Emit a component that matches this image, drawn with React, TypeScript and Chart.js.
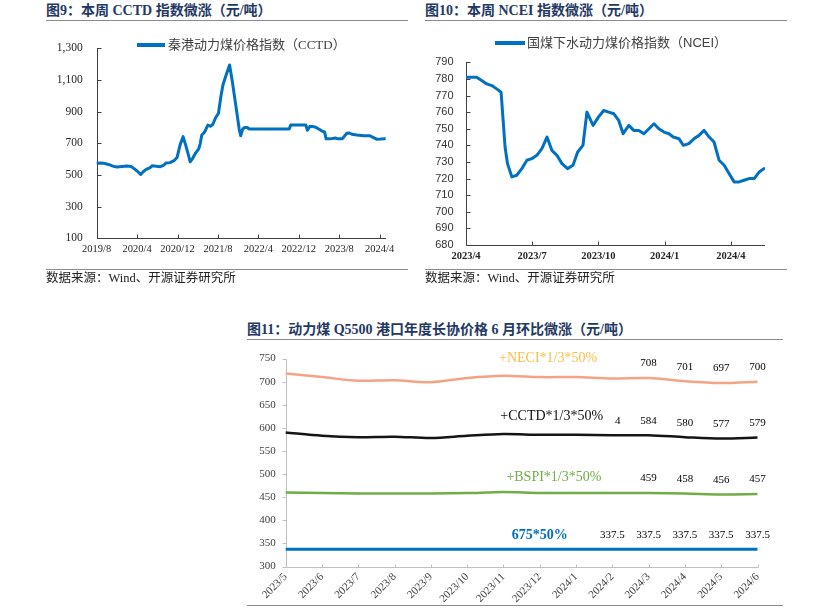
import React, { useEffect, useRef } from 'react';
import { Chart, registerables } from 'chart.js';

Chart.register(...registerables);

const SERIF = '"Liberation Serif", "Times New Roman", serif';
const SANS = '"Liberation Sans", Arial, sans-serif';
const CJK_SERIF = '"Liberation Serif", "Noto Sans CJK SC", serif';
const CJK_SANS = '"Liberation Sans", "Noto Sans CJK SC", sans-serif';

// ---------- Figure 9: CCTD (x = months since 2019/8) ----------
const cctdMonths = [0, 1, 1.6, 2.5, 3.2, 4, 5, 6, 6.8, 7.4, 8, 8.7, 9.2, 9.8, 10.5, 11, 11.8, 12.6, 13.2, 13.7,
  14.5, 15.3, 15.9, 16.5, 17.1, 17.6, 18.2, 18.5, 19, 19.6, 20.2, 20.5, 20.8, 21.2, 21.5, 22, 22.5, 23, 23.5, 24.1,
  24.6, 25, 25.6, 26.3, 26.8, 27.3, 27.8, 28.2, 28.5, 28.9, 29.3, 29.8, 30.2, 38.1, 38.4, 41.4, 41.7, 42.2, 43, 43.6,
  44.2, 44.6, 45.1, 45.4, 46.2, 47.2, 47.8, 48.6, 49.5, 50, 50.5, 51.5, 52.8, 53.5, 54, 54.5, 55.4, 56.2, 57.1];
const cctdValues = [574, 575, 572, 565, 556, 550, 553, 556, 553, 540, 525, 503, 520, 535, 545, 558, 555, 552, 560, 575,
  578, 590, 610, 690, 742, 690, 620, 583, 605, 640, 665, 700, 752, 765, 780, 815, 808, 820, 860, 890,
  1000, 1070, 1130, 1195, 1100, 990, 880, 790, 748, 790, 800, 800, 790, 790, 815, 815, 782, 807, 805, 797,
  785, 777, 772, 728, 728, 733, 728, 728, 763, 765, 757, 752, 748, 748, 748, 741, 726, 727, 729];
const cctdTickMonths = [0, 8, 16, 24, 32, 40, 48, 56];
const cctdTickLabels = ['2019/8', '2020/4', '2020/12', '2021/8', '2022/4', '2022/12', '2023/8', '2024/4'];

// ---------- Figure 10: NCEI (x = months since 2023/4) ----------
const nceiMonths = [0, 0.48, 0.71, 0.94, 1.17, 1.39, 1.59, 1.77, 1.88, 2.08, 2.3, 2.53, 2.76, 2.98, 3.21, 3.44, 3.67,
  3.89, 4.12, 4.35, 4.6, 4.85, 5.06, 5.3, 5.48, 5.76, 6.0, 6.24, 6.47, 6.7, 6.92, 7.12, 7.38, 7.6, 7.83, 8.06, 8.29,
  8.52, 8.74, 8.97, 9.2, 9.39, 9.65, 9.85, 10.1, 10.33, 10.56, 10.79, 11.02, 11.24, 11.47, 11.7, 11.92, 12.15, 12.38,
  12.6, 12.83, 13.06, 13.29, 13.5];
const nceiValues = [781, 781, 779, 777, 776, 774, 772, 739, 729, 721, 722, 726, 731, 732, 734, 738, 745,
  737, 734, 729, 726, 728, 736, 740, 760, 752, 757, 761, 760, 759, 755, 747, 752, 749, 749, 747, 750,
  753, 750, 748, 747, 745, 744, 740, 741, 744, 746, 749, 745, 742, 731, 728, 723, 718, 718,
  719, 720, 720, 724, 726];
const nceiTickMonths = [0, 3, 6, 9, 12];
const nceiTickLabels = ['2023/4', '2023/7', '2023/10', '2024/1', '2024/4'];

// ---------- Figure 11: long-term contract price components ----------
const contractMonths = ['2023/5', '2023/6', '2023/7', '2023/8', '2023/9', '2023/10', '2023/11', '2023/12',
  '2024/1', '2024/2', '2024/3', '2024/4', '2024/5', '2024/6'];
const neciPart = [718, 710, 702, 703, 699, 708, 713, 710, 710, 707, 708, 701, 697, 700];
const cctdPart = [590, 583, 580, 581, 578, 583, 587, 585, 585, 584, 584, 580, 577, 579];
const bspiPart = [460, 459, 458, 458, 458, 459, 461, 459, 459, 459, 459, 458, 456, 457];
const basePart = [337.5, 337.5, 337.5, 337.5, 337.5, 337.5, 337.5, 337.5, 337.5, 337.5, 337.5, 337.5, 337.5, 337.5];

function makeAxisDecor(o: { color: string; xFrom: number; xTo: number; yFrom: number; yTo: number }) {
  return {
    id: 'axisDecor',
    beforeDatasetsDraw(chart: any) {
      const { ctx, chartArea: a } = chart;
      const xs = chart.scales.x;
      const ys = chart.scales.y;
      const L = Math.round(a.left) + 0.5;
      const B = Math.round(a.bottom) + 0.5;
      ctx.save();
      ctx.strokeStyle = o.color;
      ctx.lineWidth = 1;
      ctx.beginPath();
      ctx.moveTo(L, Math.round(a.top));
      ctx.lineTo(L, B);
      ctx.lineTo(Math.round(a.right), B);
      ys.ticks.forEach((_t: any, i: number) => {
        const p = Math.round(ys.getPixelForTick(i)) + 0.5;
        ctx.moveTo(L + o.yFrom, p);
        ctx.lineTo(L + o.yTo, p);
      });
      xs.ticks.forEach((_t: any, i: number) => {
        const p = Math.round(xs.getPixelForTick(i)) + 0.5;
        ctx.moveTo(p, B + o.xFrom);
        ctx.lineTo(p, B + o.xTo);
      });
      ctx.stroke();
      ctx.restore();
    },
  };
}

type Note = { text: string; x: number; y: number; color: string; font: string; boxRight?: number };

function makeValueLabels(offset: number, notes: Note[]) {
  return {
    id: 'valueLabels',
    afterDatasetsDraw(chart: any) {
      const { ctx } = chart;
      ctx.save();
      ctx.font = `11px ${SERIF}`;
      ctx.fillStyle = '#000';
      ctx.textAlign = 'center';
      ctx.textBaseline = 'middle';
      chart.data.datasets.forEach((ds: any, di: number) => {
        const from = ds.labelFrom;
        if (from === undefined) return;
        const meta = chart.getDatasetMeta(di);
        ds.data.forEach((v: number, i: number) => {
          if (i < from) return;
          const el = meta.data[i];
          ctx.fillText(String(v), el.x, el.y - offset);
        });
      });
      const xs = chart.scales.x;
      const ys = chart.scales.y;
      notes.forEach((n) => {
        ctx.font = n.font;
        const cx = xs.getPixelForValue(n.x);
        const cy = ys.getPixelForValue(n.y);
        const w = ctx.measureText(n.text).width;
        if (n.boxRight !== undefined) {
          const left = cx - w / 2 - 3;
          ctx.fillStyle = '#fff';
          ctx.fillRect(left, cy - 9, xs.getPixelForValue(n.boxRight) - left, 18);
        }
        ctx.fillStyle = n.color;
        ctx.fillText(n.text, cx, cy);
      });
      ctx.restore();
    },
  };
}

function buildCctd(): any {
  return {
    type: 'line',
    data: {
      datasets: [{
        data: cctdMonths.map((m, i) => ({ x: m, y: cctdValues[i] })),
        borderColor: '#0070C0', borderWidth: 3, pointRadius: 0, tension: 0,
        borderJoinStyle: 'round', borderCapStyle: 'round',
      }],
    },
    options: {
      animation: false, responsive: false,
      layout: { padding: { left: 0, right: 24.3, top: 24.3, bottom: 0 } },
      plugins: { legend: { display: false }, tooltip: { enabled: false } },
      scales: {
        x: {
          type: 'linear', min: 0, max: 57.2,
          grid: { display: false, drawTicks: false }, border: { display: false },
          afterBuildTicks: (s: any) => { s.ticks = cctdTickMonths.map((v) => ({ value: v })); },
          ticks: { autoSkip: false, maxRotation: 0, padding: 5, color: '#262626', font: { family: SERIF, size: 10.5 },
            callback: (_v: any, i: number) => cctdTickLabels[i] },
          afterFit: (s: any) => { s.height = 31.7; },
        },
        y: {
          min: 100, max: 1300,
          grid: { display: false, drawTicks: false }, border: { display: false },
          ticks: { stepSize: 200, padding: 14, color: '#262626', font: { family: SERIF, size: 11.5 },
            callback: (v: number) => v.toLocaleString('en-US') },
          afterFit: (s: any) => { s.width = 50.7; },
        },
      },
    },
    plugins: [makeAxisDecor({ color: '#404040', xFrom: 0, xTo: -4, yFrom: 0, yTo: 4 })],
  };
}

function buildNcei(): any {
  return {
    type: 'line',
    data: {
      datasets: [{
        data: nceiMonths.map((m, i) => ({ x: m, y: nceiValues[i] })),
        borderColor: '#0070C0', borderWidth: 3, pointRadius: 0, tension: 0,
        borderJoinStyle: 'round', borderCapStyle: 'round',
      }],
    },
    options: {
      animation: false, responsive: false,
      layout: { padding: { left: 0, right: 22, top: 38.3, bottom: 0 } },
      plugins: { legend: { display: false }, tooltip: { enabled: false } },
      scales: {
        x: {
          type: 'linear', min: 0, max: 13.55,
          grid: { display: false, drawTicks: false }, border: { display: false },
          afterBuildTicks: (s: any) => { s.ticks = nceiTickMonths.map((v) => ({ value: v })); },
          ticks: { autoSkip: false, maxRotation: 0, padding: 5, color: '#262626',
            font: { family: SERIF, size: 10.5, weight: 'bold' },
            callback: (_v: any, i: number) => nceiTickLabels[i] },
          afterFit: (s: any) => { s.height = 25; },
        },
        y: {
          min: 680, max: 790,
          grid: { display: false, drawTicks: false }, border: { display: false },
          ticks: { stepSize: 10, padding: 12.5, color: '#333', font: { family: SANS, size: 11 } },
          afterFit: (s: any) => { s.width = 41; },
        },
      },
    },
    plugins: [makeAxisDecor({ color: '#404040', xFrom: 0, xTo: -4, yFrom: 0, yTo: 4 })],
  };
}

function buildContract(): any {
  const noteFont = `14px ${SERIF}`;
  const notes: Note[] = [
    { text: '+NECI*1/3*50%', x: 7.23, y: 750, color: '#F9BF45', font: noteFont },
    { text: '+CCTD*1/3*50%', x: 7.33, y: 625.7, color: '#111', font: noteFont, boxRight: 9.07 },
    { text: '+BSPI*1/3*50%', x: 7.39, y: 493, color: '#70AD47', font: noteFont },
    { text: '675*50%', x: 7.0, y: 368, color: '#0070C0', font: `bold 14px ${SERIF}` },
  ];
  return {
    type: 'line',
    data: {
      labels: contractMonths,
      datasets: [
        { data: neciPart, borderColor: '#F4A484', borderWidth: 2.5, labelFrom: 10 },
        { data: cctdPart, borderColor: '#141414', borderWidth: 2.5, labelFrom: 9 },
        { data: bspiPart, borderColor: '#70AD47', borderWidth: 2.5, labelFrom: 10 },
        { data: basePart, borderColor: '#0070C0', borderWidth: 3, labelFrom: 9 },
      ],
    },
    options: {
      animation: false, responsive: false,
      layout: { padding: { left: 0, right: 25.5, top: 14, bottom: 0 } },
      elements: { point: { radius: 0 }, line: { tension: 0.3 } },
      plugins: { legend: { display: false }, tooltip: { enabled: false } },
      scales: {
        x: {
          grid: { display: false, drawTicks: false }, border: { display: false },
          ticks: { autoSkip: false, minRotation: 45, maxRotation: 45, padding: 4, color: '#404040',
            font: { family: SERIF, size: 11 } },
          afterFit: (s: any) => { s.height = 37.5; },
        },
        y: {
          min: 300, max: 750,
          grid: { display: false, drawTicks: false }, border: { display: false },
          ticks: { stepSize: 50, padding: 10, color: '#404040', font: { family: SERIF, size: 11 } },
          afterFit: (s: any) => { s.width = 38.7; },
        },
      },
    },
    plugins: [
      makeAxisDecor({ color: '#BFBFBF', xFrom: -3, xTo: 0, yFrom: -4, yTo: 0 }),
      makeValueLabels(14.5, notes),
    ],
  };
}

function ChartCanvas(props: { left: number; top: number; width: number; height: number; build: () => any }) {
  const ref = useRef<HTMLCanvasElement>(null);
  useEffect(() => {
    const chart = new Chart(ref.current as HTMLCanvasElement, props.build());
    return () => chart.destroy();
  }, []);
  return (
    <canvas
      ref={ref}
      width={props.width}
      height={props.height}
      style={{ position: 'absolute', left: props.left, top: props.top, width: props.width, height: props.height, display: 'block' }}
    />
  );
}

const abs = (s: React.CSSProperties): React.CSSProperties => ({ position: 'absolute', whiteSpace: 'nowrap', ...s });

const titleStyle = (left: number, top: number) =>
  abs({ left, top, fontFamily: CJK_SERIF, fontWeight: 'bold', fontSize: 14, lineHeight: '20px', color: '#1F3864' });
const ruleStyle = (left: number, top: number, width: number) =>
  abs({ left, top, width, height: 1, background: '#8C8C8C' });
const sourceStyle = (left: number) =>
  abs({ left, top: 270, fontFamily: CJK_SERIF, fontSize: 12.5, lineHeight: '16px', color: '#222' });

export default function App() {
  return (
    <div style={{ position: 'absolute', left: 0, top: 0, width: 827, height: 610, background: '#fff', overflow: 'hidden' }}>
      {/* Figure 9 */}
      <div style={titleStyle(46, 1)}>图9：本周 CCTD 指数微涨（元/吨）</div>
      <div style={ruleStyle(46, 20, 362)} />
      <ChartCanvas left={46} top={24} width={364} height={246} build={buildCctd} />
      <div style={abs({ left: 137, top: 43.25, width: 28, height: 3.5, background: '#0070C0' })} />
      <div style={abs({ left: 168, top: 36, fontFamily: CJK_SERIF, fontSize: 13, lineHeight: '18px', color: '#404040' })}>
        秦港动力煤价格指数（CCTD）
      </div>
      <div style={ruleStyle(46, 269, 362)} />
      <div style={sourceStyle(46)}>数据来源：Wind、开源证券研究所</div>

      {/* Figure 10 */}
      <div style={titleStyle(425, 1)}>图10：本周 NCEI 指数微涨（元/吨）</div>
      <div style={ruleStyle(425, 20, 362)} />
      <ChartCanvas left={425} top={24} width={362} height={246} build={buildNcei} />
      <div style={abs({ left: 495, top: 41, width: 30, height: 3.5, background: '#0070C0' })} />
      <div style={abs({ left: 527, top: 33.7, fontFamily: CJK_SANS, fontSize: 13, lineHeight: '18px', color: '#404040' })}>
        国煤下水动力煤价格指数（NCEI）
      </div>
      <div style={ruleStyle(425, 269, 362)} />
      <div style={sourceStyle(425)}>数据来源：Wind、开源证券研究所</div>

      {/* Figure 11 */}
      <div style={titleStyle(247, 320)}>图11：动力煤 Q5500 港口年度长协价格 6 月环比微涨（元/吨）</div>
      <div style={ruleStyle(247, 339, 536)} />
      <ChartCanvas left={247} top={342} width={536} height={262} build={buildContract} />
      <div style={ruleStyle(247, 605, 536)} />
    </div>
  );
}
